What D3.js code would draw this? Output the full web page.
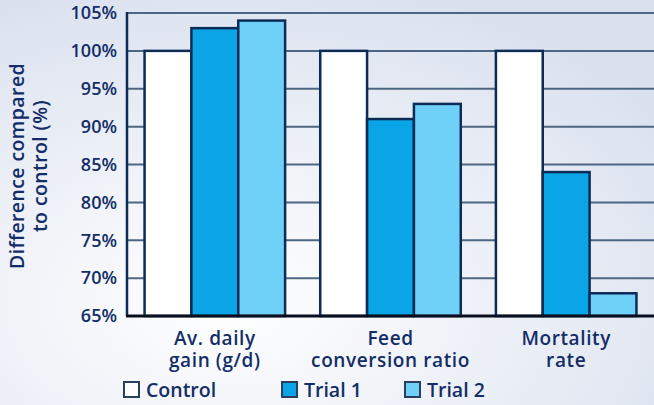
<!DOCTYPE html>
<html>
<head>
<meta charset="utf-8">
<script src="https://cdn.jsdelivr.net/npm/d3@7"></script>
<style>
  html, body { margin: 0; padding: 0; }
  body { width: 654px; height: 405px; overflow: hidden; }
  text { font-family: "Open Sans", Lato, sans-serif; fill: #132d68; }
</style>
</head>
<body>
<svg id="chart"></svg>
<script>
// chart data
const categories = [["Av. daily", "gain (g/d)"], ["Feed", "conversion ratio"], ["Mortality", "rate"]];
const seriesNames = ["Control", "Trial 1", "Trial 2"];
const controlValues = [100, 100, 100];
const trial1Values = [103, 91, 84];
const trial2Values = [104, 93, 68];
const yTicks = [65, 70, 75, 80, 85, 90, 95, 100, 105];

const colors = ["#ffffff", "#0aa5e6", "#70d1f8"];
const seriesValues = [controlValues, trial1Values, trial2Values];

const width = 654, height = 405;
const plotLeft = 127, plotRight = 654, plotTop = 13, plotBottom = 316;

const svg = d3.select('#chart')
    .attr('width', width)
    .attr('height', height);

// background gradient
const defs = svg.append('defs');
const grad = defs.append('radialGradient')
    .attr('id', 'bg')
    .attr('cx', '35%').attr('cy', '75%').attr('r', '85%');
grad.append('stop').attr('offset', '0%').attr('stop-color', '#ffffff');
grad.append('stop').attr('offset', '100%').attr('stop-color', '#d9e0ee');
svg.append('rect')
    .attr('width', width).attr('height', height)
    .attr('fill', 'url(#bg)');

const y = d3.scaleLinear()
    .domain([65, 105])
    .range([plotBottom, plotTop]);

const x0 = d3.scaleBand()
    .domain(d3.range(categories.length))
    .range([plotLeft, plotRight])
    .paddingInner(0.2)
    .paddingOuter(0.1);

const x1 = d3.scaleBand()
    .domain(d3.range(seriesNames.length))
    .range([0, x0.bandwidth()]);

// gridlines
svg.append('g')
    .selectAll('line')
    .data(yTicks.filter(d => d > 65))
    .enter()
    .append('line')
    .attr('x1', plotLeft).attr('x2', plotRight)
    .attr('y1', d => y(d)).attr('y2', d => y(d))
    .attr('stroke', '#4d6783')
    .attr('stroke-width', 2);

// left border
svg.append('line')
    .attr('x1', plotLeft).attr('x2', plotLeft)
    .attr('y1', y(105) - 1).attr('y2', plotBottom)
    .attr('stroke', '#0d2b57')
    .attr('stroke-width', 2.5);

// bars
const groups = svg.append('g')
    .selectAll('g')
    .data(categories)
    .enter()
    .append('g')
    .attr('transform', (d, i) => `translate(${x0(i)},0)`);

groups.selectAll('rect')
    .data((d, i) => seriesValues.map((vals, s) => ({ s: s, v: vals[i] })))
    .enter()
    .append('rect')
    .attr('x', d => x1(d.s))
    .attr('y', d => y(d.v))
    .attr('width', x1.bandwidth())
    .attr('height', d => plotBottom - y(d.v))
    .attr('fill', d => colors[d.s])
    .attr('stroke', '#0d2b57')
    .attr('stroke-width', 2.5);

// bottom axis line
svg.append('line')
    .attr('x1', plotLeft - 1).attr('x2', plotRight)
    .attr('y1', plotBottom).attr('y2', plotBottom)
    .attr('stroke', '#0a0f1e')
    .attr('stroke-width', 3);

// y axis labels
const yAxis = svg.append('g')
    .attr('transform', `translate(${plotLeft},0)`)
    .call(d3.axisLeft(y).tickValues(yTicks).tickSize(0).tickPadding(10).tickFormat(d => d + '%'));
yAxis.select('.domain').remove();
yAxis.selectAll('text')
    .style('font-family', '"Open Sans", sans-serif')
    .style('font-size', '18px')
    .style('font-weight', 600)
    .attr('fill', '#132d68');

// y title
const yTitle = svg.append('text')
    .attr('transform', 'translate(0,166) rotate(-90)')
    .attr('text-anchor', 'middle')
    .style('font-size', '19.5px')
    .style('font-weight', 600)
    .style('letter-spacing', '0.4px');
yTitle.append('tspan').attr('x', 0).attr('y', 24).text('Difference compared');
yTitle.append('tspan').attr('x', 0).attr('y', 47).text('to control (%)');

// x labels, one text per line
categories.forEach((lines, i) => {
    lines.forEach((ln, j) => {
        svg.append('text')
            .attr('text-anchor', 'middle')
            .attr('x', x0(i) + x0.bandwidth() / 2)
            .attr('y', 345 + j * 22)
            .style('font-size', '19px')
            .style('font-weight', 600)
            .style('letter-spacing', '0.6px')
            .text(ln);
    });
});

// legend
const legendX = [124, 282, 405];
const legend = svg.append('g')
    .selectAll('g')
    .data(seriesNames)
    .enter()
    .append('g')
    .attr('transform', (d, i) => `translate(${legendX[i]},382)`);
legend.append('rect')
    .attr('width', 15).attr('height', 15)
    .attr('fill', (d, i) => colors[i])
    .attr('stroke', '#2a3f5e')
    .attr('stroke-width', 2);
legend.append('text')
    .attr('x', 22)
    .attr('y', 15)
    .style('font-size', '19.5px')
    .style('font-weight', 600)
    .text(d => d);
</script>
</body>
</html>
